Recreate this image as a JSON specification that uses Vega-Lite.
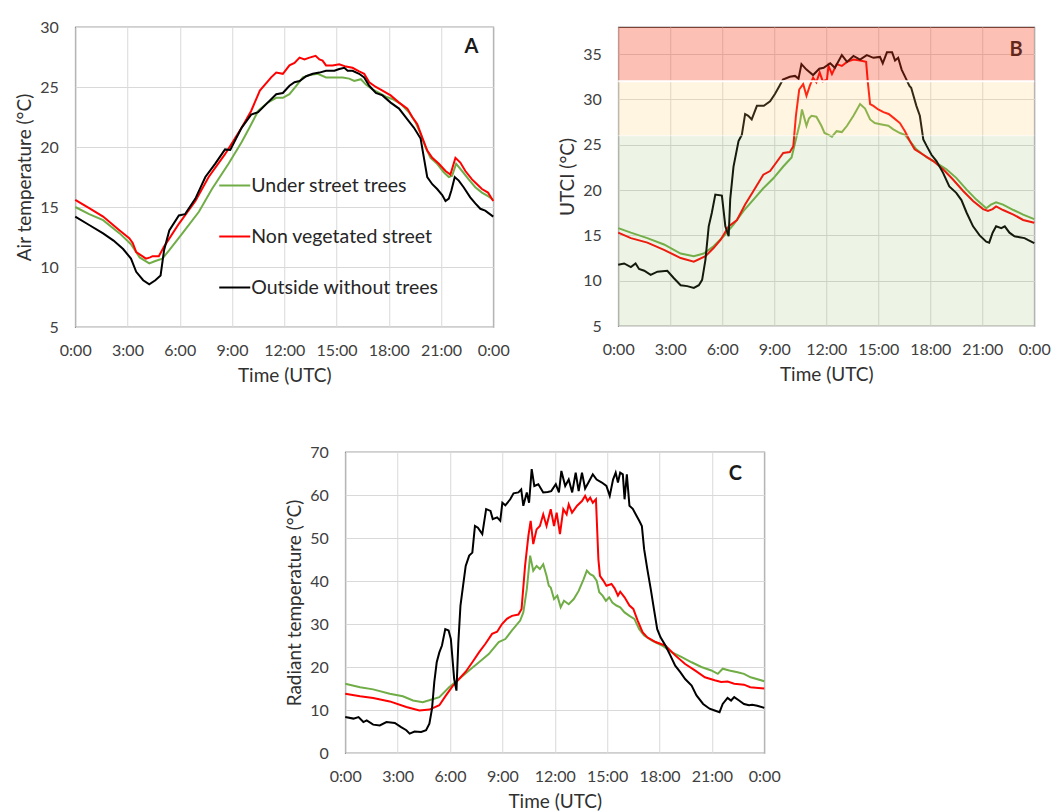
{
"$schema": "https://vega.github.io/schema/vega-lite/v6.json",
"padding": {"left": 15, "top": 18, "right": 0, "bottom": 0},
"background": "white",
"datasets": {
"a": [
{"s":"Under street trees","t":0,"v":15.0},{"s":"Under street trees","t":0.8,"v":14.4},{"s":"Under street trees","t":1.6,"v":13.9},{"s":"Under street trees","t":2.55,"v":12.8},{"s":"Under street trees","t":3.2,"v":11.9},{"s":"Under street trees","t":3.7,"v":10.8},{"s":"Under street trees","t":4.25,"v":10.3},{"s":"Under street trees","t":4.6,"v":10.5},{"s":"Under street trees","t":5.0,"v":10.7},{"s":"Under street trees","t":5.4,"v":11.4},{"s":"Under street trees","t":6.15,"v":12.8},{"s":"Under street trees","t":7.1,"v":14.6},{"s":"Under street trees","t":7.85,"v":16.5},{"s":"Under street trees","t":8.8,"v":18.6},{"s":"Under street trees","t":9.55,"v":20.4},{"s":"Under street trees","t":10.0,"v":21.6},{"s":"Under street trees","t":10.5,"v":23.0},{"s":"Under street trees","t":11.05,"v":23.7},{"s":"Under street trees","t":11.54,"v":24.1},{"s":"Under street trees","t":11.92,"v":24.1},{"s":"Under street trees","t":12.3,"v":24.4},{"s":"Under street trees","t":12.69,"v":25.1},{"s":"Under street trees","t":13.07,"v":25.8},{"s":"Under street trees","t":13.45,"v":26.0},{"s":"Under street trees","t":13.92,"v":26.1},{"s":"Under street trees","t":14.4,"v":25.8},{"s":"Under street trees","t":14.88,"v":25.8},{"s":"Under street trees","t":15.35,"v":25.8},{"s":"Under street trees","t":15.73,"v":25.7},{"s":"Under street trees","t":16.02,"v":25.5},{"s":"Under street trees","t":16.4,"v":25.65},{"s":"Under street trees","t":16.69,"v":25.2},{"s":"Under street trees","t":17.07,"v":24.8},{"s":"Under street trees","t":17.45,"v":24.5},{"s":"Under street trees","t":17.83,"v":24.2},{"s":"Under street trees","t":18.2,"v":24.0},{"s":"Under street trees","t":18.69,"v":23.6},{"s":"Under street trees","t":19.16,"v":22.9},{"s":"Under street trees","t":19.54,"v":22.05},{"s":"Under street trees","t":19.83,"v":21.1},{"s":"Under street trees","t":20.11,"v":20.0},{"s":"Under street trees","t":20.4,"v":19.1},{"s":"Under street trees","t":20.78,"v":18.6},{"s":"Under street trees","t":21.16,"v":17.9},{"s":"Under street trees","t":21.45,"v":17.5},{"s":"Under street trees","t":21.64,"v":17.6},{"s":"Under street trees","t":21.87,"v":18.6},{"s":"Under street trees","t":22.21,"v":18.0},{"s":"Under street trees","t":22.59,"v":17.3},{"s":"Under street trees","t":22.97,"v":16.65},{"s":"Under street trees","t":23.35,"v":16.2},{"s":"Under street trees","t":23.7,"v":15.9},{"s":"Under street trees","t":24,"v":15.6},
{"s":"Non vegetated street","t":0,"v":15.6},{"s":"Non vegetated street","t":0.8,"v":14.9},{"s":"Non vegetated street","t":1.6,"v":14.2},{"s":"Non vegetated street","t":2.55,"v":13.05},{"s":"Non vegetated street","t":3.1,"v":12.4},{"s":"Non vegetated street","t":3.3,"v":12.0},{"s":"Non vegetated street","t":3.5,"v":11.25},{"s":"Non vegetated street","t":4.06,"v":10.7},{"s":"Non vegetated street","t":4.3,"v":10.8},{"s":"Non vegetated street","t":4.44,"v":10.9},{"s":"Non vegetated street","t":4.8,"v":10.9},{"s":"Non vegetated street","t":5.1,"v":11.7},{"s":"Non vegetated street","t":5.95,"v":13.6},{"s":"Non vegetated street","t":6.9,"v":15.5},{"s":"Non vegetated street","t":7.66,"v":17.5},{"s":"Non vegetated street","t":8.6,"v":19.4},{"s":"Non vegetated street","t":9.55,"v":21.6},{"s":"Non vegetated street","t":10.1,"v":23.0},{"s":"Non vegetated street","t":10.6,"v":24.7},{"s":"Non vegetated street","t":11.25,"v":25.8},{"s":"Non vegetated street","t":11.54,"v":26.2},{"s":"Non vegetated street","t":11.92,"v":26.1},{"s":"Non vegetated street","t":12.3,"v":26.8},{"s":"Non vegetated street","t":12.59,"v":27.0},{"s":"Non vegetated street","t":12.88,"v":27.45},{"s":"Non vegetated street","t":13.16,"v":27.3},{"s":"Non vegetated street","t":13.45,"v":27.45},{"s":"Non vegetated street","t":13.8,"v":27.6},{"s":"Non vegetated street","t":14.02,"v":27.3},{"s":"Non vegetated street","t":14.2,"v":27.2},{"s":"Non vegetated street","t":14.4,"v":26.8},{"s":"Non vegetated street","t":14.78,"v":26.8},{"s":"Non vegetated street","t":15.16,"v":26.9},{"s":"Non vegetated street","t":15.54,"v":26.7},{"s":"Non vegetated street","t":15.92,"v":26.6},{"s":"Non vegetated street","t":16.3,"v":26.3},{"s":"Non vegetated street","t":16.59,"v":26.1},{"s":"Non vegetated street","t":16.88,"v":25.4},{"s":"Non vegetated street","t":17.26,"v":25.0},{"s":"Non vegetated street","t":17.64,"v":24.7},{"s":"Non vegetated street","t":18.11,"v":24.3},{"s":"Non vegetated street","t":18.59,"v":23.7},{"s":"Non vegetated street","t":19.07,"v":23.2},{"s":"Non vegetated street","t":19.35,"v":22.5},{"s":"Non vegetated street","t":19.64,"v":21.9},{"s":"Non vegetated street","t":19.92,"v":20.8},{"s":"Non vegetated street","t":20.21,"v":19.7},{"s":"Non vegetated street","t":20.5,"v":19.1},{"s":"Non vegetated street","t":20.88,"v":18.6},{"s":"Non vegetated street","t":21.26,"v":18.0},{"s":"Non vegetated street","t":21.54,"v":17.7},{"s":"Non vegetated street","t":21.83,"v":19.1},{"s":"Non vegetated street","t":22.11,"v":18.7},{"s":"Non vegetated street","t":22.4,"v":18.0},{"s":"Non vegetated street","t":22.78,"v":17.3},{"s":"Non vegetated street","t":23.07,"v":16.9},{"s":"Non vegetated street","t":23.35,"v":16.5},{"s":"Non vegetated street","t":23.7,"v":16.2},{"s":"Non vegetated street","t":24,"v":15.5},
{"s":"Outside without trees","t":0,"v":14.2},{"s":"Outside without trees","t":0.8,"v":13.5},{"s":"Outside without trees","t":1.6,"v":12.8},{"s":"Outside without trees","t":2.2,"v":12.2},{"s":"Outside without trees","t":2.75,"v":11.5},{"s":"Outside without trees","t":3.2,"v":10.7},{"s":"Outside without trees","t":3.5,"v":9.6},{"s":"Outside without trees","t":3.9,"v":8.9},{"s":"Outside without trees","t":4.25,"v":8.55},{"s":"Outside without trees","t":4.6,"v":8.9},{"s":"Outside without trees","t":4.9,"v":9.3},{"s":"Outside without trees","t":5.1,"v":11.4},{"s":"Outside without trees","t":5.4,"v":13.05},{"s":"Outside without trees","t":5.95,"v":14.3},{"s":"Outside without trees","t":6.3,"v":14.4},{"s":"Outside without trees","t":6.9,"v":15.7},{"s":"Outside without trees","t":7.47,"v":17.5},{"s":"Outside without trees","t":8.03,"v":18.6},{"s":"Outside without trees","t":8.6,"v":19.8},{"s":"Outside without trees","t":8.9,"v":19.75},{"s":"Outside without trees","t":9.55,"v":21.6},{"s":"Outside without trees","t":10.1,"v":22.7},{"s":"Outside without trees","t":10.5,"v":22.9},{"s":"Outside without trees","t":11.05,"v":23.7},{"s":"Outside without trees","t":11.54,"v":24.4},{"s":"Outside without trees","t":11.92,"v":24.5},{"s":"Outside without trees","t":12.3,"v":25.1},{"s":"Outside without trees","t":12.59,"v":25.4},{"s":"Outside without trees","t":12.88,"v":25.5},{"s":"Outside without trees","t":13.26,"v":25.9},{"s":"Outside without trees","t":13.64,"v":26.1},{"s":"Outside without trees","t":14.02,"v":26.2},{"s":"Outside without trees","t":14.4,"v":26.35},{"s":"Outside without trees","t":14.88,"v":26.35},{"s":"Outside without trees","t":15.16,"v":26.5},{"s":"Outside without trees","t":15.45,"v":26.6},{"s":"Outside without trees","t":15.64,"v":26.35},{"s":"Outside without trees","t":15.92,"v":26.35},{"s":"Outside without trees","t":16.3,"v":26.1},{"s":"Outside without trees","t":16.59,"v":25.8},{"s":"Outside without trees","t":16.88,"v":25.1},{"s":"Outside without trees","t":17.26,"v":24.5},{"s":"Outside without trees","t":17.64,"v":24.3},{"s":"Outside without trees","t":18.11,"v":23.7},{"s":"Outside without trees","t":18.59,"v":23.2},{"s":"Outside without trees","t":19.07,"v":22.3},{"s":"Outside without trees","t":19.45,"v":21.6},{"s":"Outside without trees","t":19.83,"v":20.7},{"s":"Outside without trees","t":20.02,"v":19.1},{"s":"Outside without trees","t":20.21,"v":17.5},{"s":"Outside without trees","t":20.5,"v":16.9},{"s":"Outside without trees","t":20.78,"v":16.5},{"s":"Outside without trees","t":21.07,"v":16.0},{"s":"Outside without trees","t":21.26,"v":15.5},{"s":"Outside without trees","t":21.45,"v":15.7},{"s":"Outside without trees","t":21.6,"v":16.4},{"s":"Outside without trees","t":21.79,"v":17.5},{"s":"Outside without trees","t":22.02,"v":17.2},{"s":"Outside without trees","t":22.3,"v":16.65},{"s":"Outside without trees","t":22.68,"v":15.8},{"s":"Outside without trees","t":22.97,"v":15.3},{"s":"Outside without trees","t":23.26,"v":14.85},{"s":"Outside without trees","t":23.54,"v":14.7},{"s":"Outside without trees","t":24,"v":14.2}
],
"b": [
{"s":"Under street trees","t":0,"v":15.8},{"s":"Under street trees","t":0.73,"v":15.3},{"s":"Under street trees","t":1.68,"v":14.7},{"s":"Under street trees","t":2.64,"v":14.0},{"s":"Under street trees","t":3.6,"v":13.0},{"s":"Under street trees","t":4.36,"v":12.7},{"s":"Under street trees","t":4.93,"v":13.0},{"s":"Under street trees","t":5.5,"v":13.8},{"s":"Under street trees","t":6.08,"v":14.9},{"s":"Under street trees","t":6.65,"v":16.2},{"s":"Under street trees","t":7.23,"v":17.7},{"s":"Under street trees","t":7.8,"v":18.95},{"s":"Under street trees","t":8.37,"v":20.2},{"s":"Under street trees","t":8.95,"v":21.3},{"s":"Under street trees","t":9.52,"v":22.6},{"s":"Under street trees","t":10.0,"v":23.6},{"s":"Under street trees","t":10.3,"v":26.0},{"s":"Under street trees","t":10.48,"v":27.4},{"s":"Under street trees","t":10.6,"v":28.9},{"s":"Under street trees","t":10.86,"v":27.1},{"s":"Under street trees","t":11.0,"v":27.9},{"s":"Under street trees","t":11.15,"v":28.2},{"s":"Under street trees","t":11.43,"v":28.1},{"s":"Under street trees","t":11.72,"v":27.1},{"s":"Under street trees","t":11.9,"v":26.3},{"s":"Under street trees","t":12.13,"v":26.1},{"s":"Under street trees","t":12.33,"v":25.9},{"s":"Under street trees","t":12.6,"v":26.5},{"s":"Under street trees","t":12.9,"v":26.4},{"s":"Under street trees","t":13.2,"v":27.1},{"s":"Under street trees","t":13.57,"v":28.2},{"s":"Under street trees","t":13.95,"v":29.5},{"s":"Under street trees","t":14.24,"v":29.0},{"s":"Under street trees","t":14.53,"v":27.8},{"s":"Under street trees","t":14.8,"v":27.4},{"s":"Under street trees","t":15.2,"v":27.25},{"s":"Under street trees","t":15.58,"v":27.1},{"s":"Under street trees","t":15.87,"v":26.7},{"s":"Under street trees","t":16.25,"v":26.3},{"s":"Under street trees","t":16.54,"v":26.1},{"s":"Under street trees","t":16.83,"v":25.4},{"s":"Under street trees","t":17.2,"v":24.5},{"s":"Under street trees","t":17.8,"v":23.6},{"s":"Under street trees","t":18.36,"v":23.0},{"s":"Under street trees","t":18.93,"v":22.3},{"s":"Under street trees","t":19.5,"v":21.35},{"s":"Under street trees","t":20.1,"v":20.05},{"s":"Under street trees","t":20.66,"v":18.95},{"s":"Under street trees","t":21.23,"v":18.0},{"s":"Under street trees","t":21.5,"v":18.4},{"s":"Under street trees","t":21.8,"v":18.65},{"s":"Under street trees","t":22.2,"v":18.4},{"s":"Under street trees","t":22.8,"v":17.8},{"s":"Under street trees","t":23.36,"v":17.3},{"s":"Under street trees","t":24,"v":16.8},
{"s":"Non vegetated street","t":0,"v":15.3},{"s":"Non vegetated street","t":0.73,"v":14.7},{"s":"Non vegetated street","t":1.68,"v":14.2},{"s":"Non vegetated street","t":2.64,"v":13.4},{"s":"Non vegetated street","t":3.6,"v":12.5},{"s":"Non vegetated street","t":4.36,"v":12.1},{"s":"Non vegetated street","t":5.03,"v":12.7},{"s":"Non vegetated street","t":5.5,"v":13.6},{"s":"Non vegetated street","t":5.9,"v":14.5},{"s":"Non vegetated street","t":6.37,"v":16.0},{"s":"Non vegetated street","t":6.85,"v":16.7},{"s":"Non vegetated street","t":7.32,"v":18.4},{"s":"Non vegetated street","t":7.8,"v":19.9},{"s":"Non vegetated street","t":8.37,"v":21.7},{"s":"Non vegetated street","t":8.76,"v":22.1},{"s":"Non vegetated street","t":9.14,"v":23.1},{"s":"Non vegetated street","t":9.52,"v":24.1},{"s":"Non vegetated street","t":9.9,"v":24.2},{"s":"Non vegetated street","t":10.1,"v":24.85},{"s":"Non vegetated street","t":10.25,"v":28.2},{"s":"Non vegetated street","t":10.44,"v":31.1},{"s":"Non vegetated street","t":10.67,"v":31.7},{"s":"Non vegetated street","t":10.86,"v":30.4},{"s":"Non vegetated street","t":11.05,"v":31.5},{"s":"Non vegetated street","t":11.24,"v":32.4},{"s":"Non vegetated street","t":11.43,"v":31.9},{"s":"Non vegetated street","t":11.62,"v":33.0},{"s":"Non vegetated street","t":11.8,"v":32.0},{"s":"Non vegetated street","t":12.04,"v":32.2},{"s":"Non vegetated street","t":12.13,"v":33.7},{"s":"Non vegetated street","t":12.33,"v":32.8},{"s":"Non vegetated street","t":12.6,"v":33.9},{"s":"Non vegetated street","t":12.9,"v":33.7},{"s":"Non vegetated street","t":13.2,"v":34.15},{"s":"Non vegetated street","t":13.57,"v":34.4},{"s":"Non vegetated street","t":13.95,"v":34.3},{"s":"Non vegetated street","t":14.3,"v":34.15},{"s":"Non vegetated street","t":14.4,"v":31.9},{"s":"Non vegetated street","t":14.53,"v":29.5},{"s":"Non vegetated street","t":14.72,"v":29.3},{"s":"Non vegetated street","t":15.0,"v":28.9},{"s":"Non vegetated street","t":15.3,"v":28.6},{"s":"Non vegetated street","t":15.6,"v":28.4},{"s":"Non vegetated street","t":15.87,"v":28.0},{"s":"Non vegetated street","t":16.25,"v":27.4},{"s":"Non vegetated street","t":16.54,"v":26.5},{"s":"Non vegetated street","t":16.83,"v":25.4},{"s":"Non vegetated street","t":17.1,"v":24.5},{"s":"Non vegetated street","t":17.6,"v":23.9},{"s":"Non vegetated street","t":18.17,"v":23.2},{"s":"Non vegetated street","t":18.74,"v":22.3},{"s":"Non vegetated street","t":19.3,"v":21.2},{"s":"Non vegetated street","t":19.9,"v":19.9},{"s":"Non vegetated street","t":20.47,"v":18.8},{"s":"Non vegetated street","t":21.05,"v":17.9},{"s":"Non vegetated street","t":21.33,"v":17.7},{"s":"Non vegetated street","t":21.6,"v":17.9},{"s":"Non vegetated street","t":21.8,"v":18.2},{"s":"Non vegetated street","t":22.2,"v":17.8},{"s":"Non vegetated street","t":22.8,"v":17.3},{"s":"Non vegetated street","t":23.36,"v":16.7},{"s":"Non vegetated street","t":24,"v":16.4},
{"s":"Outside without trees","t":0,"v":11.75},{"s":"Outside without trees","t":0.34,"v":11.9},{"s":"Outside without trees","t":0.73,"v":11.5},{"s":"Outside without trees","t":1.0,"v":11.9},{"s":"Outside without trees","t":1.2,"v":11.3},{"s":"Outside without trees","t":1.5,"v":11.1},{"s":"Outside without trees","t":1.87,"v":10.65},{"s":"Outside without trees","t":2.26,"v":11.0},{"s":"Outside without trees","t":2.83,"v":11.1},{"s":"Outside without trees","t":3.2,"v":10.3},{"s":"Outside without trees","t":3.6,"v":9.5},{"s":"Outside without trees","t":3.98,"v":9.4},{"s":"Outside without trees","t":4.36,"v":9.2},{"s":"Outside without trees","t":4.65,"v":9.5},{"s":"Outside without trees","t":4.84,"v":10.1},{"s":"Outside without trees","t":5.03,"v":12.3},{"s":"Outside without trees","t":5.22,"v":16.0},{"s":"Outside without trees","t":5.4,"v":17.5},{"s":"Outside without trees","t":5.6,"v":19.5},{"s":"Outside without trees","t":5.98,"v":19.4},{"s":"Outside without trees","t":6.18,"v":16.0},{"s":"Outside without trees","t":6.37,"v":14.9},{"s":"Outside without trees","t":6.46,"v":19.0},{"s":"Outside without trees","t":6.65,"v":22.6},{"s":"Outside without trees","t":6.94,"v":25.4},{"s":"Outside without trees","t":7.13,"v":26.1},{"s":"Outside without trees","t":7.32,"v":28.4},{"s":"Outside without trees","t":7.5,"v":28.2},{"s":"Outside without trees","t":7.7,"v":27.8},{"s":"Outside without trees","t":8.0,"v":29.3},{"s":"Outside without trees","t":8.4,"v":29.3},{"s":"Outside without trees","t":8.76,"v":29.8},{"s":"Outside without trees","t":9.04,"v":30.6},{"s":"Outside without trees","t":9.3,"v":31.5},{"s":"Outside without trees","t":9.5,"v":32.2},{"s":"Outside without trees","t":9.9,"v":32.5},{"s":"Outside without trees","t":10.2,"v":32.6},{"s":"Outside without trees","t":10.4,"v":32.3},{"s":"Outside without trees","t":10.57,"v":33.9},{"s":"Outside without trees","t":10.86,"v":33.3},{"s":"Outside without trees","t":11.24,"v":32.7},{"s":"Outside without trees","t":11.6,"v":33.4},{"s":"Outside without trees","t":11.85,"v":33.5},{"s":"Outside without trees","t":12.23,"v":34.0},{"s":"Outside without trees","t":12.5,"v":33.5},{"s":"Outside without trees","t":12.9,"v":34.9},{"s":"Outside without trees","t":13.2,"v":34.15},{"s":"Outside without trees","t":13.57,"v":34.8},{"s":"Outside without trees","t":13.95,"v":34.4},{"s":"Outside without trees","t":14.34,"v":34.9},{"s":"Outside without trees","t":14.72,"v":34.6},{"s":"Outside without trees","t":15.1,"v":34.7},{"s":"Outside without trees","t":15.26,"v":34.0},{"s":"Outside without trees","t":15.5,"v":35.2},{"s":"Outside without trees","t":15.8,"v":35.2},{"s":"Outside without trees","t":15.97,"v":34.3},{"s":"Outside without trees","t":16.15,"v":34.6},{"s":"Outside without trees","t":16.35,"v":33.3},{"s":"Outside without trees","t":16.6,"v":32.3},{"s":"Outside without trees","t":16.8,"v":31.5},{"s":"Outside without trees","t":16.9,"v":31.3},{"s":"Outside without trees","t":17.2,"v":29.3},{"s":"Outside without trees","t":17.4,"v":28.2},{"s":"Outside without trees","t":17.6,"v":25.6},{"s":"Outside without trees","t":17.8,"v":24.85},{"s":"Outside without trees","t":18.07,"v":23.9},{"s":"Outside without trees","t":18.36,"v":23.2},{"s":"Outside without trees","t":18.74,"v":21.9},{"s":"Outside without trees","t":19.1,"v":20.4},{"s":"Outside without trees","t":19.5,"v":19.7},{"s":"Outside without trees","t":19.8,"v":18.9},{"s":"Outside without trees","t":20.1,"v":17.5},{"s":"Outside without trees","t":20.47,"v":16.0},{"s":"Outside without trees","t":20.85,"v":15.0},{"s":"Outside without trees","t":21.23,"v":14.3},{"s":"Outside without trees","t":21.4,"v":14.2},{"s":"Outside without trees","t":21.6,"v":15.3},{"s":"Outside without trees","t":21.8,"v":16.0},{"s":"Outside without trees","t":22.1,"v":15.8},{"s":"Outside without trees","t":22.3,"v":16.0},{"s":"Outside without trees","t":22.57,"v":15.3},{"s":"Outside without trees","t":22.86,"v":14.9},{"s":"Outside without trees","t":23.15,"v":14.8},{"s":"Outside without trees","t":23.44,"v":14.7},{"s":"Outside without trees","t":23.63,"v":14.5},{"s":"Outside without trees","t":24,"v":14.15}
],
"c": [
{"s":"Under street trees","t":0,"v":16.1},{"s":"Under street trees","t":0.85,"v":15.3},{"s":"Under street trees","t":1.6,"v":14.8},{"s":"Under street trees","t":2.55,"v":13.8},{"s":"Under street trees","t":3.3,"v":13.2},{"s":"Under street trees","t":3.88,"v":12.2},{"s":"Under street trees","t":4.44,"v":11.8},{"s":"Under street trees","t":5.0,"v":12.5},{"s":"Under street trees","t":5.39,"v":13.0},{"s":"Under street trees","t":5.95,"v":15.3},{"s":"Under street trees","t":6.52,"v":17.2},{"s":"Under street trees","t":7.09,"v":19.2},{"s":"Under street trees","t":7.66,"v":21.1},{"s":"Under street trees","t":8.22,"v":23.0},{"s":"Under street trees","t":8.79,"v":25.8},{"s":"Under street trees","t":9.17,"v":26.5},{"s":"Under street trees","t":9.55,"v":28.5},{"s":"Under street trees","t":10.02,"v":30.8},{"s":"Under street trees","t":10.2,"v":32.7},{"s":"Under street trees","t":10.4,"v":38.1},{"s":"Under street trees","t":10.59,"v":45.9},{"s":"Under street trees","t":10.77,"v":42.4},{"s":"Under street trees","t":10.96,"v":43.5},{"s":"Under street trees","t":11.15,"v":42.8},{"s":"Under street trees","t":11.34,"v":43.9},{"s":"Under street trees","t":11.53,"v":41.2},{"s":"Under street trees","t":11.66,"v":38.9},{"s":"Under street trees","t":11.77,"v":38.5},{"s":"Under street trees","t":11.96,"v":35.8},{"s":"Under street trees","t":12.15,"v":36.6},{"s":"Under street trees","t":12.34,"v":33.9},{"s":"Under street trees","t":12.53,"v":35.4},{"s":"Under street trees","t":12.8,"v":34.6},{"s":"Under street trees","t":13.09,"v":35.8},{"s":"Under street trees","t":13.37,"v":37.7},{"s":"Under street trees","t":13.65,"v":40.4},{"s":"Under street trees","t":13.84,"v":42.4},{"s":"Under street trees","t":14.03,"v":41.6},{"s":"Under street trees","t":14.21,"v":41.2},{"s":"Under street trees","t":14.4,"v":40.1},{"s":"Under street trees","t":14.55,"v":37.4},{"s":"Under street trees","t":14.74,"v":36.6},{"s":"Under street trees","t":14.93,"v":35.4},{"s":"Under street trees","t":15.12,"v":36.2},{"s":"Under street trees","t":15.3,"v":35.0},{"s":"Under street trees","t":15.53,"v":34.3},{"s":"Under street trees","t":15.75,"v":33.9},{"s":"Under street trees","t":16.0,"v":32.7},{"s":"Under street trees","t":16.28,"v":31.9},{"s":"Under street trees","t":16.56,"v":31.2},{"s":"Under street trees","t":16.84,"v":28.8},{"s":"Under street trees","t":17.12,"v":27.3},{"s":"Under street trees","t":17.59,"v":26.1},{"s":"Under street trees","t":18.15,"v":25.0},{"s":"Under street trees","t":18.72,"v":23.4},{"s":"Under street trees","t":19.28,"v":22.3},{"s":"Under street trees","t":19.84,"v":21.1},{"s":"Under street trees","t":20.4,"v":20.0},{"s":"Under street trees","t":20.97,"v":19.2},{"s":"Under street trees","t":21.34,"v":18.4},{"s":"Under street trees","t":21.62,"v":19.6},{"s":"Under street trees","t":22.0,"v":19.2},{"s":"Under street trees","t":22.47,"v":18.8},{"s":"Under street trees","t":22.84,"v":18.4},{"s":"Under street trees","t":23.22,"v":17.6},{"s":"Under street trees","t":24,"v":16.7},
{"s":"Non vegetated street","t":0,"v":13.8},{"s":"Non vegetated street","t":0.85,"v":13.2},{"s":"Non vegetated street","t":1.6,"v":12.8},{"s":"Non vegetated street","t":2.55,"v":12.0},{"s":"Non vegetated street","t":3.5,"v":10.7},{"s":"Non vegetated street","t":4.25,"v":9.9},{"s":"Non vegetated street","t":4.82,"v":10.1},{"s":"Non vegetated street","t":5.39,"v":11.1},{"s":"Non vegetated street","t":5.77,"v":13.4},{"s":"Non vegetated street","t":6.14,"v":15.5},{"s":"Non vegetated street","t":6.52,"v":17.2},{"s":"Non vegetated street","t":6.9,"v":18.9},{"s":"Non vegetated street","t":7.28,"v":21.1},{"s":"Non vegetated street","t":7.66,"v":23.4},{"s":"Non vegetated street","t":8.03,"v":25.4},{"s":"Non vegetated street","t":8.41,"v":27.7},{"s":"Non vegetated street","t":8.7,"v":28.2},{"s":"Non vegetated street","t":8.98,"v":30.0},{"s":"Non vegetated street","t":9.26,"v":31.2},{"s":"Non vegetated street","t":9.55,"v":31.9},{"s":"Non vegetated street","t":9.92,"v":32.2},{"s":"Non vegetated street","t":10.1,"v":33.5},{"s":"Non vegetated street","t":10.3,"v":43.5},{"s":"Non vegetated street","t":10.49,"v":50.5},{"s":"Non vegetated street","t":10.62,"v":54.0},{"s":"Non vegetated street","t":10.77,"v":48.6},{"s":"Non vegetated street","t":10.96,"v":52.0},{"s":"Non vegetated street","t":11.15,"v":52.8},{"s":"Non vegetated street","t":11.34,"v":55.5},{"s":"Non vegetated street","t":11.53,"v":52.8},{"s":"Non vegetated street","t":11.77,"v":56.7},{"s":"Non vegetated street","t":11.96,"v":52.8},{"s":"Non vegetated street","t":12.11,"v":55.9},{"s":"Non vegetated street","t":12.3,"v":50.9},{"s":"Non vegetated street","t":12.49,"v":56.7},{"s":"Non vegetated street","t":12.68,"v":55.5},{"s":"Non vegetated street","t":12.8,"v":57.8},{"s":"Non vegetated street","t":12.99,"v":55.9},{"s":"Non vegetated street","t":13.28,"v":57.5},{"s":"Non vegetated street","t":13.56,"v":58.6},{"s":"Non vegetated street","t":13.74,"v":59.8},{"s":"Non vegetated street","t":13.88,"v":58.6},{"s":"Non vegetated street","t":14.03,"v":59.4},{"s":"Non vegetated street","t":14.18,"v":58.2},{"s":"Non vegetated street","t":14.36,"v":59.0},{"s":"Non vegetated street","t":14.5,"v":45.1},{"s":"Non vegetated street","t":14.59,"v":41.2},{"s":"Non vegetated street","t":14.78,"v":40.1},{"s":"Non vegetated street","t":14.96,"v":38.9},{"s":"Non vegetated street","t":15.25,"v":39.3},{"s":"Non vegetated street","t":15.43,"v":38.3},{"s":"Non vegetated street","t":15.62,"v":36.6},{"s":"Non vegetated street","t":15.75,"v":37.5},{"s":"Non vegetated street","t":16.0,"v":36.2},{"s":"Non vegetated street","t":16.28,"v":34.3},{"s":"Non vegetated street","t":16.5,"v":33.5},{"s":"Non vegetated street","t":16.75,"v":30.8},{"s":"Non vegetated street","t":17.03,"v":28.1},{"s":"Non vegetated street","t":17.3,"v":26.9},{"s":"Non vegetated street","t":17.78,"v":25.8},{"s":"Non vegetated street","t":18.34,"v":25.0},{"s":"Non vegetated street","t":18.9,"v":22.7},{"s":"Non vegetated street","t":19.47,"v":20.7},{"s":"Non vegetated street","t":20.03,"v":19.2},{"s":"Non vegetated street","t":20.6,"v":17.6},{"s":"Non vegetated street","t":21.16,"v":16.9},{"s":"Non vegetated street","t":21.53,"v":16.5},{"s":"Non vegetated street","t":21.9,"v":16.6},{"s":"Non vegetated street","t":22.28,"v":16.1},{"s":"Non vegetated street","t":22.84,"v":15.9},{"s":"Non vegetated street","t":23.2,"v":15.3},{"s":"Non vegetated street","t":24,"v":15.0},
{"s":"Outside without trees","t":0,"v":8.35},{"s":"Outside without trees","t":0.47,"v":8.0},{"s":"Outside without trees","t":0.76,"v":8.35},{"s":"Outside without trees","t":1.04,"v":7.2},{"s":"Outside without trees","t":1.23,"v":7.6},{"s":"Outside without trees","t":1.6,"v":6.6},{"s":"Outside without trees","t":1.98,"v":6.4},{"s":"Outside without trees","t":2.36,"v":7.2},{"s":"Outside without trees","t":2.84,"v":7.0},{"s":"Outside without trees","t":3.2,"v":6.0},{"s":"Outside without trees","t":3.5,"v":5.3},{"s":"Outside without trees","t":3.69,"v":4.5},{"s":"Outside without trees","t":3.97,"v":5.0},{"s":"Outside without trees","t":4.35,"v":4.9},{"s":"Outside without trees","t":4.63,"v":5.3},{"s":"Outside without trees","t":4.82,"v":6.8},{"s":"Outside without trees","t":4.97,"v":10.3},{"s":"Outside without trees","t":5.1,"v":16.5},{"s":"Outside without trees","t":5.24,"v":21.1},{"s":"Outside without trees","t":5.39,"v":23.4},{"s":"Outside without trees","t":5.54,"v":25.0},{"s":"Outside without trees","t":5.73,"v":28.8},{"s":"Outside without trees","t":5.92,"v":28.5},{"s":"Outside without trees","t":6.05,"v":26.5},{"s":"Outside without trees","t":6.24,"v":17.2},{"s":"Outside without trees","t":6.37,"v":14.5},{"s":"Outside without trees","t":6.48,"v":25.8},{"s":"Outside without trees","t":6.6,"v":34.3},{"s":"Outside without trees","t":6.75,"v":38.9},{"s":"Outside without trees","t":6.9,"v":43.5},{"s":"Outside without trees","t":7.1,"v":45.9},{"s":"Outside without trees","t":7.28,"v":46.6},{"s":"Outside without trees","t":7.43,"v":52.8},{"s":"Outside without trees","t":7.6,"v":52.4},{"s":"Outside without trees","t":7.85,"v":50.9},{"s":"Outside without trees","t":8.07,"v":56.7},{"s":"Outside without trees","t":8.32,"v":56.3},{"s":"Outside without trees","t":8.45,"v":54.4},{"s":"Outside without trees","t":8.7,"v":54.8},{"s":"Outside without trees","t":8.88,"v":54.0},{"s":"Outside without trees","t":9.0,"v":58.2},{"s":"Outside without trees","t":9.17,"v":57.6},{"s":"Outside without trees","t":9.45,"v":59.0},{"s":"Outside without trees","t":9.64,"v":60.4},{"s":"Outside without trees","t":9.92,"v":60.6},{"s":"Outside without trees","t":10.08,"v":61.3},{"s":"Outside without trees","t":10.2,"v":57.5},{"s":"Outside without trees","t":10.4,"v":60.6},{"s":"Outside without trees","t":10.53,"v":58.2},{"s":"Outside without trees","t":10.68,"v":66.0},{"s":"Outside without trees","t":10.83,"v":62.1},{"s":"Outside without trees","t":11.06,"v":62.5},{"s":"Outside without trees","t":11.34,"v":60.6},{"s":"Outside without trees","t":11.6,"v":60.7},{"s":"Outside without trees","t":11.8,"v":60.9},{"s":"Outside without trees","t":12.06,"v":62.5},{"s":"Outside without trees","t":12.24,"v":60.6},{"s":"Outside without trees","t":12.38,"v":65.6},{"s":"Outside without trees","t":12.6,"v":62.1},{"s":"Outside without trees","t":12.8,"v":63.6},{"s":"Outside without trees","t":13.0,"v":60.6},{"s":"Outside without trees","t":13.2,"v":65.2},{"s":"Outside without trees","t":13.37,"v":60.9},{"s":"Outside without trees","t":13.56,"v":65.2},{"s":"Outside without trees","t":13.74,"v":61.5},{"s":"Outside without trees","t":13.93,"v":62.9},{"s":"Outside without trees","t":14.18,"v":64.8},{"s":"Outside without trees","t":14.4,"v":63.6},{"s":"Outside without trees","t":14.7,"v":62.9},{"s":"Outside without trees","t":14.96,"v":62.1},{"s":"Outside without trees","t":15.15,"v":59.8},{"s":"Outside without trees","t":15.34,"v":63.6},{"s":"Outside without trees","t":15.49,"v":65.2},{"s":"Outside without trees","t":15.62,"v":62.9},{"s":"Outside without trees","t":15.75,"v":65.2},{"s":"Outside without trees","t":15.9,"v":64.8},{"s":"Outside without trees","t":16.0,"v":59.0},{"s":"Outside without trees","t":16.13,"v":64.8},{"s":"Outside without trees","t":16.28,"v":57.5},{"s":"Outside without trees","t":16.47,"v":56.8},{"s":"Outside without trees","t":16.69,"v":55.1},{"s":"Outside without trees","t":16.84,"v":54.0},{"s":"Outside without trees","t":16.99,"v":52.8},{"s":"Outside without trees","t":17.12,"v":47.4},{"s":"Outside without trees","t":17.3,"v":42.8},{"s":"Outside without trees","t":17.5,"v":38.1},{"s":"Outside without trees","t":17.68,"v":33.5},{"s":"Outside without trees","t":17.87,"v":28.8},{"s":"Outside without trees","t":18.06,"v":26.9},{"s":"Outside without trees","t":18.34,"v":25.0},{"s":"Outside without trees","t":18.62,"v":22.7},{"s":"Outside without trees","t":18.9,"v":20.3},{"s":"Outside without trees","t":19.19,"v":18.8},{"s":"Outside without trees","t":19.47,"v":17.2},{"s":"Outside without trees","t":19.84,"v":15.7},{"s":"Outside without trees","t":20.12,"v":13.4},{"s":"Outside without trees","t":20.5,"v":11.4},{"s":"Outside without trees","t":20.87,"v":10.3},{"s":"Outside without trees","t":21.16,"v":9.9},{"s":"Outside without trees","t":21.44,"v":9.5},{"s":"Outside without trees","t":21.62,"v":11.4},{"s":"Outside without trees","t":21.9,"v":12.8},{"s":"Outside without trees","t":22.1,"v":12.2},{"s":"Outside without trees","t":22.28,"v":13.0},{"s":"Outside without trees","t":22.56,"v":12.2},{"s":"Outside without trees","t":22.84,"v":11.4},{"s":"Outside without trees","t":23.13,"v":11.1},{"s":"Outside without trees","t":23.31,"v":11.2},{"s":"Outside without trees","t":23.6,"v":11.0},{"s":"Outside without trees","t":24,"v":10.5}
],
"zones": [{"lo":5,"hi":26,"zone":"none"},{"lo":26,"hi":32,"zone":"moderate"},{"lo":32,"hi":38,"zone":"strong"}],
"labA": [{"label":"A"}],
"labB": [{"label":"B"}],
"labC": [{"label":"C"}]
},
"vconcat": [
{
"hconcat": [
{
"width": 418, "height": 300,
"layer": [
{"data": {"name": "a"}, "mark": {"type": "line", "strokeWidth": 2},
"encoding": {
"x": {"field": "t", "type": "quantitative", "scale": {"domain": [0, 24], "nice": false}, "axis": {"values": [0,3,6,9,12,15,18,21,24], "labelExpr": "datum.value == 24 ? '0:00' : datum.value + ':00'", "title": "Time (UTC)"}},
"y": {"field": "v", "type": "quantitative", "scale": {"domain": [5, 30], "nice": false, "zero": false}, "axis": {"values": [5,10,15,20,25,30], "title": "Air temperature (°C)"}},
"color": {"field": "s", "type": "nominal", "scale": {"domain": ["Under street trees","Non vegetated street","Outside without trees"], "range": ["#70AD47","#FF0000","#000000"]},
"legend": {"orient": "none", "legendX": 143, "legendY": 142, "title": null, "symbolType": "stroke", "symbolSize": 961, "symbolStrokeWidth": 2, "labelFontSize": 19.5, "labelColor": "#262626", "labelFont": "Lato", "rowPadding": 25, "labelOffset": 0, "padding": 0, "labelLimit": 400}}
}},
{"data": {"name": "labA"}, "mark": {"type": "text", "fontWeight": "bold", "fontSize": 20, "color": "#1a1a1a"},
"encoding": {"x": {"datum": 22.75}, "y": {"datum": 28.3}, "text": {"field": "label"}}}
]
},
{
"width": 416, "height": 299,
"layer": [
{"data": {"name": "b"}, "mark": {"type": "line", "strokeWidth": 2},
"encoding": {
"x": {"field": "t", "type": "quantitative", "scale": {"domain": [0, 24], "nice": false}, "axis": {"values": [0,3,6,9,12,15,18,21,24], "labelExpr": "datum.value == 24 ? '0:00' : datum.value + ':00'", "title": "Time (UTC)"}},
"y": {"field": "v", "type": "quantitative", "scale": {"domain": [5, 38], "nice": false, "zero": false}, "axis": {"values": [5,10,15,20,25,30,35], "title": "UTCI (°C)"}},
"color": {"field": "s", "type": "nominal", "scale": {"domain": ["Under street trees","Non vegetated street","Outside without trees"], "range": ["#70AD47","#FF0000","#000000"]}, "legend": null}
}},
{"data": {"name": "labB"}, "mark": {"type": "text", "fontWeight": "bold", "fontSize": 20, "color": "#1a1a1a"},
"encoding": {"x": {"datum": 22.95}, "y": {"datum": 35.45}, "text": {"field": "label"}}},
{"data": {"name": "zones"}, "transform": [{"filter": "datum.zone == 'none'"}], "mark": {"type": "rect", "fill": "#87B658", "fillOpacity": 0.15},
"encoding": {"x": {"datum": 0}, "x2": {"datum": 24}, "y": {"field": "lo", "type": "quantitative"}, "y2": {"field": "hi"}}},
{"data": {"name": "zones"}, "transform": [{"filter": "datum.zone == 'moderate'"}], "mark": {"type": "rect", "fill": "#FFCD69", "fillOpacity": 0.2},
"encoding": {"x": {"datum": 0}, "x2": {"datum": 24}, "y": {"field": "lo", "type": "quantitative"}, "y2": {"field": "hi"}}},
{"data": {"name": "zones"}, "transform": [{"filter": "datum.zone == 'strong'"}], "mark": {"type": "rect", "fill": "#F6401D", "fillOpacity": 0.33},
"encoding": {"x": {"datum": 0}, "x2": {"datum": 24}, "y": {"field": "lo", "type": "quantitative"}, "y2": {"field": "hi"}}},
{"data": {"name": "zones"}, "transform": [{"filter": "datum.zone == 'strong'"}], "mark": {"type": "rule", "color": "white", "strokeWidth": 2},
"encoding": {"y": {"field": "lo", "type": "quantitative"}}},
{"data": {"name": "zones"}, "transform": [{"filter": "datum.zone == 'moderate'"}], "mark": {"type": "rule", "color": "white", "strokeWidth": 1, "opacity": 0.6},
"encoding": {"y": {"field": "lo", "type": "quantitative"}}}
]
}
],
"spacing": 125,
"bounds": "flush",
"resolve": {"scale": {"color": "independent"}, "legend": {"color": "independent"}}
},
{
"width": 419, "height": 301,
"layer": [
{"data": {"name": "c"}, "mark": {"type": "line", "strokeWidth": 2},
"encoding": {
"x": {"field": "t", "type": "quantitative", "scale": {"domain": [0, 24], "nice": false}, "axis": {"values": [0,3,6,9,12,15,18,21,24], "labelExpr": "datum.value == 24 ? '0:00' : datum.value + ':00'", "title": "Time (UTC)"}},
"y": {"field": "v", "type": "quantitative", "scale": {"domain": [0, 70], "nice": false}, "axis": {"values": [0,10,20,30,40,50,60,70], "title": "Radiant temperature (°C)"}},
"color": {"field": "s", "type": "nominal", "scale": {"domain": ["Under street trees","Non vegetated street","Outside without trees"], "range": ["#70AD47","#FF0000","#000000"]}, "legend": null}
}},
{"data": {"name": "labC"}, "mark": {"type": "text", "fontWeight": "bold", "fontSize": 20, "color": "#1a1a1a"},
"encoding": {"x": {"datum": 22.35}, "y": {"datum": 65.0}, "text": {"field": "label"}}}
]
}
],
"spacing": 57,
"center": true,
"resolve": {"scale": {"color": "independent"}, "legend": {"color": "independent"}},
"config": {
"font": "Lato",
"view": {"stroke": "#404040", "strokeWidth": 1.2},
"axis": {"grid": true, "gridColor": "#D9D9D9", "gridWidth": 1, "domain": false, "ticks": false, "tickSize": 0, "labelFont": "Lato", "labelFontSize": 16, "labelColor": "#404040", "titleFont": "Lato", "titleFontSize": 19, "titleFontWeight": "normal", "titleColor": "#303030", "labelFlush": false, "labelOverlap": false},
"axisX": {"labelPadding": 15, "titlePadding": 8},
"axisY": {"labelPadding": 17, "titlePadding": 5}
}
}
